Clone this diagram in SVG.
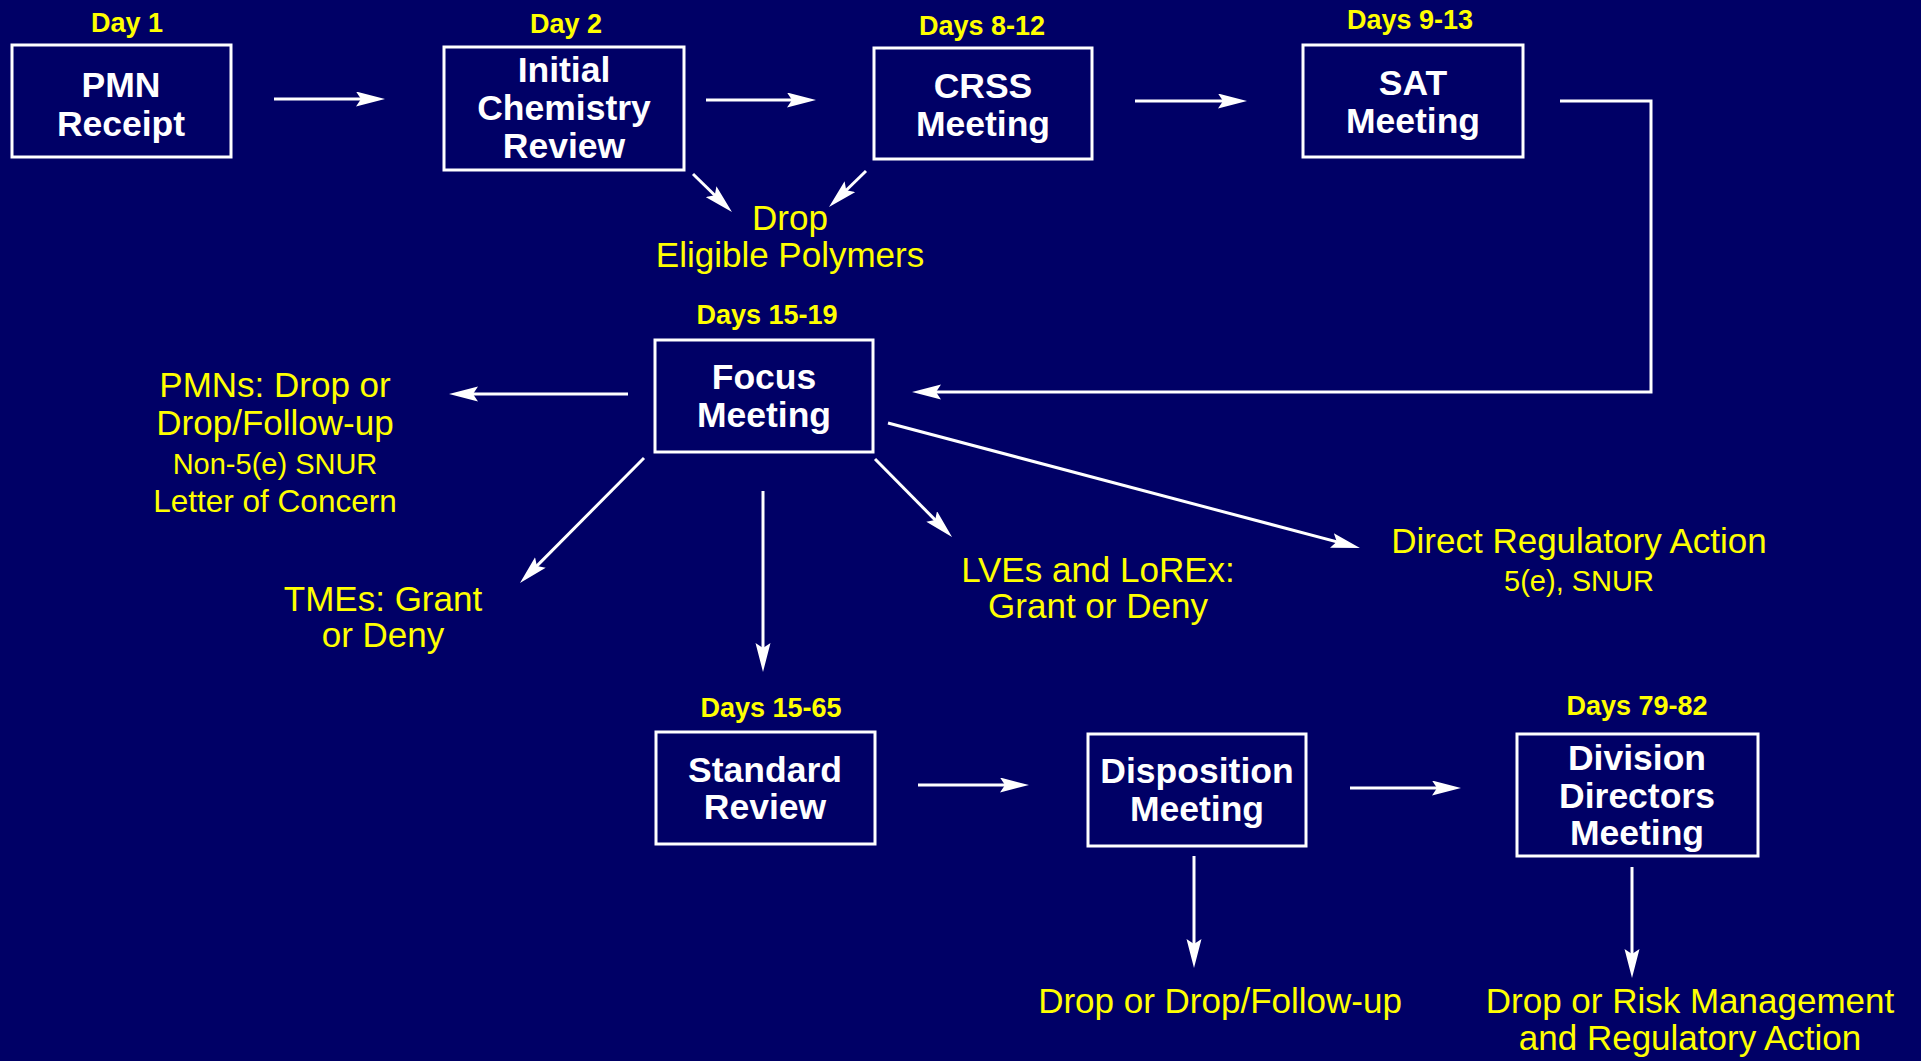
<svg xmlns="http://www.w3.org/2000/svg" width="1921" height="1061" viewBox="0 0 1921 1061">
<style>
.box{fill:none;stroke:#fff;stroke-width:3}
.bt{font-family:"Liberation Sans",Arial,sans-serif;font-weight:bold;font-size:35.5px;fill:#fff;text-anchor:middle}
.day{font-family:"Liberation Sans",Arial,sans-serif;font-weight:bold;font-size:27px;fill:#ffff00;text-anchor:middle}
.yt{font-family:"Liberation Sans",Arial,sans-serif;font-size:35px;fill:#ffff00;text-anchor:middle}
.ys{font-family:"Liberation Sans",Arial,sans-serif;font-size:29px;fill:#ffff00;text-anchor:middle}
.c{fill:none;stroke:#fff;stroke-width:3;marker-end:url(#ah)}
</style>
<defs>
<marker id="ah" markerUnits="userSpaceOnUse" markerWidth="30" markerHeight="16" viewBox="0 0 30 16" refX="19" refY="7.5" orient="auto">
<path d="M0,0 L29,7.5 L0,15 L5,7.5 Z" fill="#fff"/>
</marker>
</defs>
<rect width="1921" height="1061" fill="#000066"/>

<g id="n-pmn">
<text class="day" x="127" y="32">Day 1</text>
<rect class="box" x="12" y="45" width="219" height="112"/>
<text class="bt" x="121" y="97">PMN</text>
<text class="bt" x="121" y="136">Receipt</text>
</g>
<g id="n-initial">
<text class="day" x="566" y="33">Day 2</text>
<rect class="box" x="444" y="47" width="240" height="123"/>
<text class="bt" x="564" y="82">Initial</text>
<text class="bt" x="564" y="120">Chemistry</text>
<text class="bt" x="564" y="158">Review</text>
</g>
<g id="n-crss">
<text class="day" x="982" y="35">Days 8-12</text>
<rect class="box" x="874" y="48" width="218" height="111"/>
<text class="bt" x="983" y="98">CRSS</text>
<text class="bt" x="983" y="136">Meeting</text>
</g>
<g id="n-sat">
<text class="day" x="1410" y="29">Days 9-13</text>
<rect class="box" x="1303" y="45" width="220" height="112"/>
<text class="bt" x="1413" y="95">SAT</text>
<text class="bt" x="1413" y="133">Meeting</text>
</g>
<g id="n-drop-polymers">
<text class="yt" x="790" y="230">Drop</text>
<text class="yt" x="790" y="267">Eligible Polymers</text>
</g>
<g id="n-focus">
<text class="day" x="767" y="324">Days 15-19</text>
<rect class="box" x="655" y="340" width="218" height="112"/>
<text class="bt" x="764" y="389">Focus</text>
<text class="bt" x="764" y="427">Meeting</text>
</g>
<g id="n-pmns">
<text class="yt" x="275" y="397">PMNs: Drop or</text>
<text class="yt" x="275" y="435">Drop/Follow-up</text>
<text class="ys" x="275" y="474">Non-5(e) SNUR</text>
<text class="ys" x="275" y="512" style="font-size:31.5px">Letter of Concern</text>
</g>
<g id="n-tmes">
<text class="yt" x="383" y="611">TMEs: Grant</text>
<text class="yt" x="383" y="647">or Deny</text>
</g>
<g id="n-lves">
<text class="yt" x="1098" y="582">LVEs and LoREx:</text>
<text class="yt" x="1098" y="618">Grant or Deny</text>
</g>
<g id="n-direct">
<text class="yt" x="1579" y="553">Direct Regulatory Action</text>
<text class="ys" x="1579" y="591">5(e), SNUR</text>
</g>
<g id="n-standard">
<text class="day" x="771" y="717">Days 15-65</text>
<rect class="box" x="656" y="732" width="219" height="112"/>
<text class="bt" x="765" y="782">Standard</text>
<text class="bt" x="765" y="819">Review</text>
</g>
<g id="n-disposition">
<rect class="box" x="1088" y="734" width="218" height="112"/>
<text class="bt" x="1197" y="783">Disposition</text>
<text class="bt" x="1197" y="821">Meeting</text>
</g>
<g id="n-division">
<text class="day" x="1637" y="715">Days 79-82</text>
<rect class="box" x="1517" y="734" width="241" height="122"/>
<text class="bt" x="1637" y="770">Division</text>
<text class="bt" x="1637" y="808">Directors</text>
<text class="bt" x="1637" y="845">Meeting</text>
</g>
<g id="n-out-disp">
<text class="yt" x="1220" y="1013">Drop or Drop/Follow-up</text>
</g>
<g id="n-out-div">
<text class="yt" x="1690" y="1013">Drop or Risk Management</text>
<text class="yt" x="1690" y="1050">and Regulatory Action</text>
</g>

<g id="connectors">
<path class="c" d="M274,99 L375,99"/>
<path class="c" d="M706,100 L806,100"/>
<path class="c" d="M1135,101 L1237,101"/>
<path class="c" d="M1560,101 L1651,101 L1651,392 L922,392"/>
<path class="c" d="M693,174 L724.8,205"/>
<path class="c" d="M866,171 L836.2,200"/>
<path class="c" d="M628,394 L459,394"/>
<path class="c" d="M644,458 L527,575.9"/>
<path class="c" d="M763,491 L763,662"/>
<path class="c" d="M875,459 L945,529.9"/>
<path class="c" d="M888,423 L1350.3,545.4"/>
<path class="c" d="M918,785 L1019,785"/>
<path class="c" d="M1350,788 L1451,788"/>
<path class="c" d="M1194,856 L1194,958"/>
<path class="c" d="M1632,867 L1632,968"/>
</g>
</svg>
